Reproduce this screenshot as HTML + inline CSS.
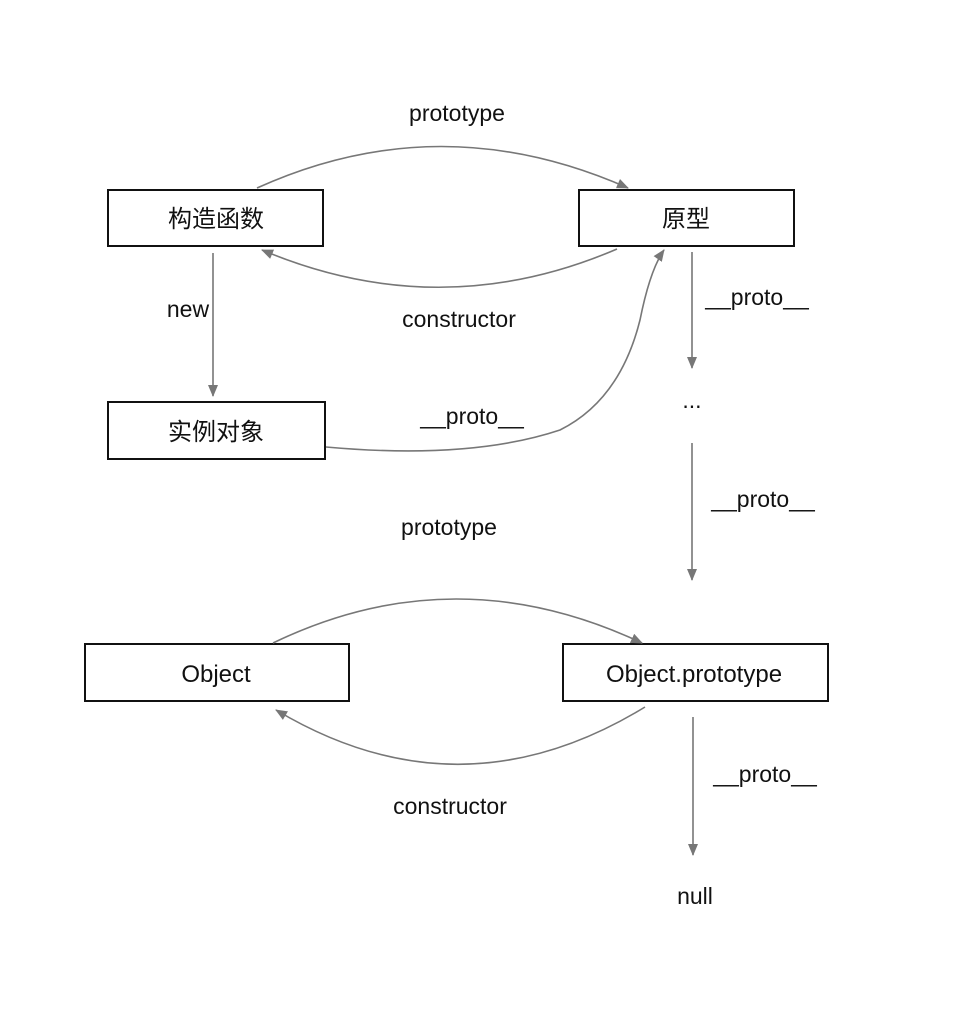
<!DOCTYPE html>
<html><head><meta charset="utf-8"><style>
html,body{margin:0;padding:0;background:#fff;}
svg{display:block;}
text{font-family:"Liberation Sans","Noto Sans CJK SC",sans-serif;fill:#111;}
</style></head><body>
<svg width="960" height="1034" viewBox="0 0 960 1034" xmlns="http://www.w3.org/2000/svg">
<defs>
<marker id="a" markerWidth="12" markerHeight="10" refX="11" refY="5" orient="auto" markerUnits="userSpaceOnUse">
<path d="M0,0 L12,5 L0,10 Z" fill="#777"/></marker>
</defs>
<g fill="none" stroke="#111" stroke-width="2">
<rect x="108" y="190" width="215" height="56"/>
<rect x="579" y="190" width="215" height="56"/>
<rect x="108" y="402" width="217" height="57"/>
<rect x="85" y="644" width="264" height="57"/>
<rect x="563" y="644" width="265" height="57"/>
</g>
<g fill="none" stroke="#777" stroke-width="1.6" marker-end="url(#a)">
<path d="M257,188 Q440,105 628,188"/>
<path d="M617,249 Q440,325 262,250"/>
<path d="M213,253 L213,396"/>
<path d="M326,447 Q470,460 560,430 Q620,400 640,320 Q650,270 664,250"/>
<path d="M692,252 L692,368"/>
<path d="M692,443 L692,580"/>
<path d="M273,643 Q455,555 642,643"/>
<path d="M645,707 Q460,820 276,710"/>
<path d="M693,717 L693,855"/>
</g>
<g font-size="24" text-anchor="middle">
<text x="216" y="227">构造函数</text>
<text x="686" y="227">原型</text>
<text x="216" y="440">实例对象</text>
<text x="216" y="682">Object</text>
<text x="694" y="682">Object.prototype</text>
</g>
<g font-size="23" text-anchor="middle">
<text x="457" y="121">prototype</text>
<text x="459" y="327">constructor</text>
<text x="188" y="317">new</text>
<text x="472" y="424">__proto__</text>
<text x="757" y="305">__proto__</text>
<text x="692" y="408">...</text>
<text x="763" y="507">__proto__</text>
<text x="449" y="535">prototype</text>
<text x="450" y="814">constructor</text>
<text x="765" y="782">__proto__</text>
<text x="695" y="904">null</text>
</g>
</svg>
</body></html>
